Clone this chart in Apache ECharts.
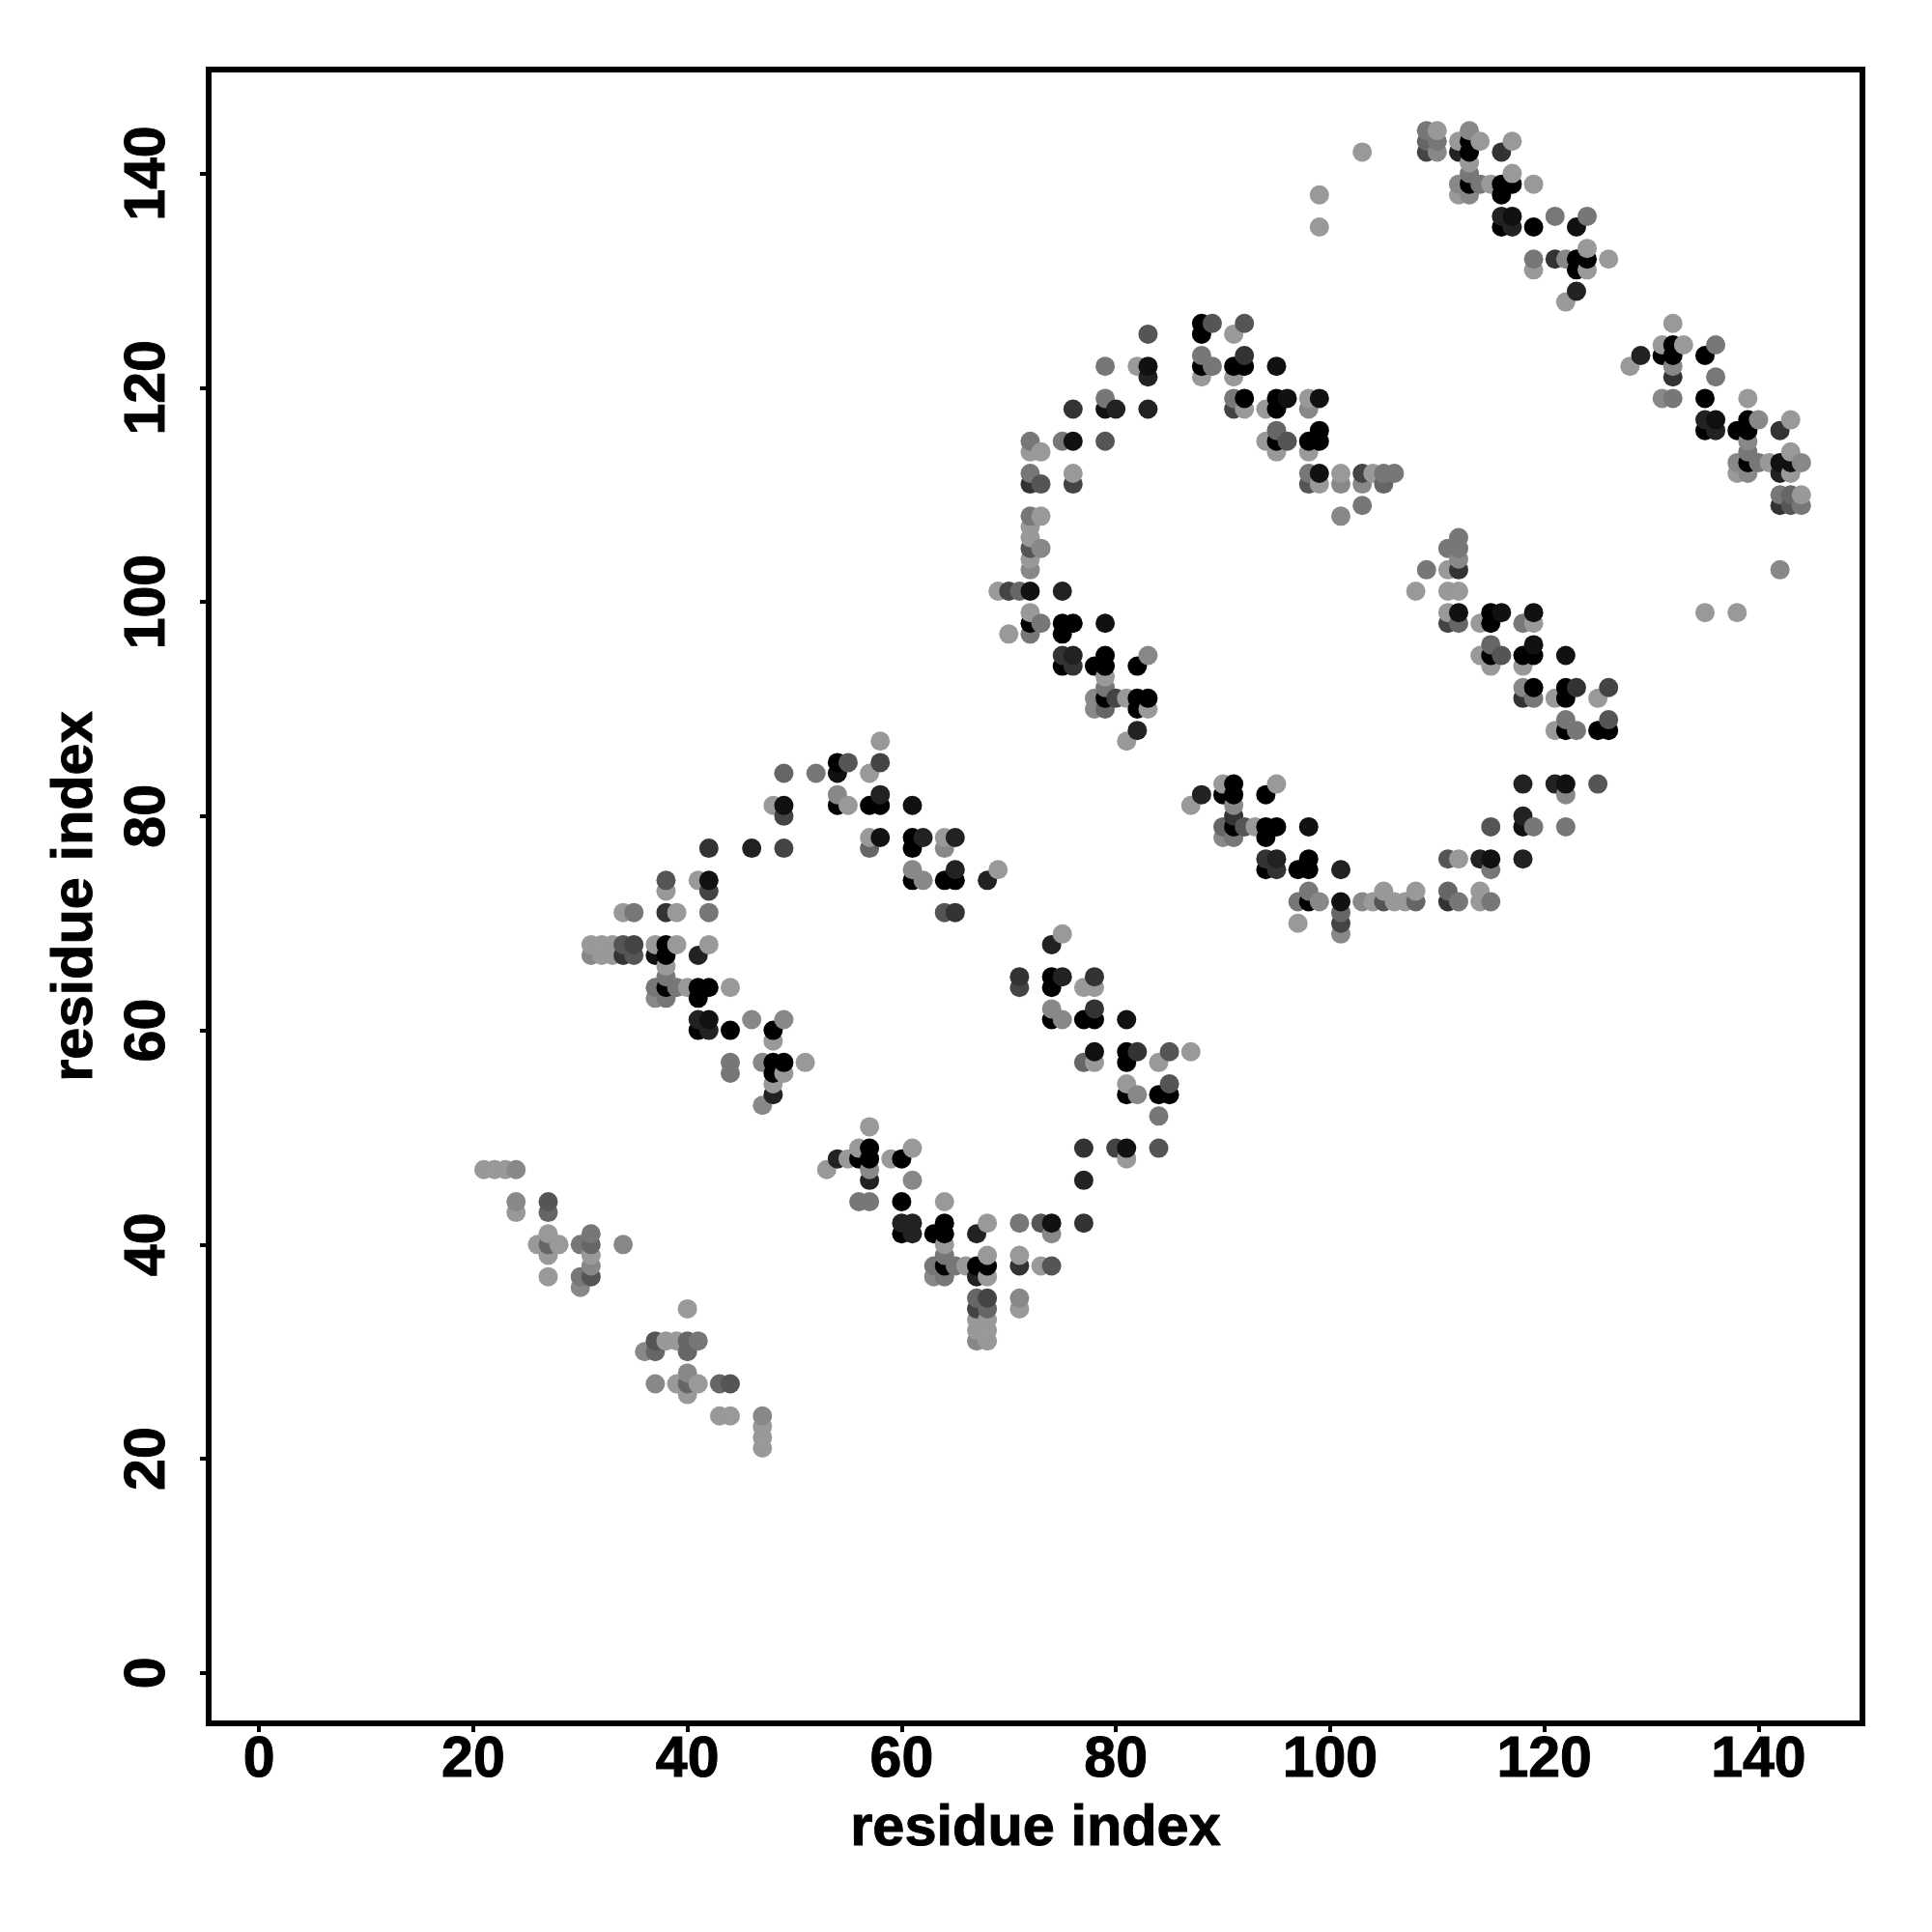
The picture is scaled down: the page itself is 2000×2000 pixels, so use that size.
<!DOCTYPE html>
<html><head><meta charset="utf-8">
<style>html,body{margin:0;padding:0;background:#fff}#c{width:2000px;height:2000px}</style>
<script src="https://cdn.jsdelivr.net/npm/echarts@6/dist/echarts.min.js"></script>
</head><body><div id="c"></div>
<script>
const tickValues = [0,20,40,60,80,100,120,140];
const axisTitle = 'residue index';
const gray99 = [[21,47],[22,47],[23,47],[24,43],[27,41],[26,40],[28,40],[27,39],[31,39],[27,37],[40,34],[38,31],[39,31],[39,27],[41,27],[40,26],[43,24],[44,24],[47,23],[47,22],[47,21],
[75,69],[77,64],[78,64],[87,58],[78,57],[84,57],[81,55],[81,48],[71,39],[73,38],[71,34],[57,51],[56,49],[61,49],[55,48],[59,48],[53,47],[64,44],[68,42],[64,40],[68,39],[66,38],[68,37],[67,33],[68,33],[67,32],[68,32],[68,31],
[58,87],[57,84],[48,81],[55,81],[57,78],[64,78],[69,75],[41,74],[38,73],[34,71],[39,71],[31,68],[32,68],[33,68],[37,68],[39,68],[42,68],[32,67],[33,67],[38,66],[40,64],[44,64],[48,59],[49,56],[51,57],[48,55],
[111,103],[108,101],[111,101],[112,101],[111,99],[114,98],[119,98],[114,95],[115,94],[118,94],[121,91],[125,91],[121,88],[90,83],[95,83],[87,81],[93,79],[112,76],[105,73],[108,73],[114,73],[104,72],[106,72],[107,72],[114,72],[97,70],
[91,125],[82,122],[88,121],[91,121],[98,119],[92,118],[94,118],[73,114],[72,114],[94,115],[95,114],[98,114],[76,112],[101,112],[104,112],[99,111],[73,108],[72,107],[72,106],[72,104],[69,101],[72,99],[70,97],[79,93],[81,91],[83,90],[81,87],
[110,144],[112,143],[114,143],[117,143],[103,142],[113,141],[117,140],[115,139],[119,139],[99,138],[112,138],[99,135],[124,133],[119,131],[124,131],[126,132],[122,128],
[132,126],[131,124],[133,124],[128,122],[139,119],[143,117],[143,114],[141,113],[138,112],[143,112],[144,110],[135,99],[138,99]];
const gray88 = [[24,47],[24,44],[34,40],[31,38],[30,36],[36,30],[40,28],[37,27],[47,24],[57,47],[74,41],[71,35],[63,37],[67,31],[82,54],[74,62],[75,61],[61,46],[54,82],[64,77],[61,75],[62,74],[31,67],[37,63],[46,61],[49,61],[47,57],[47,53],
[112,104],[118,92],[90,78],[91,81],[122,82],[99,72],[103,72],[101,69],[101,108],[98,118],[103,111],[101,111],[73,105],[72,103],[83,95],[78,91],[78,90],[113,144],[112,139],[113,138],[110,142],[122,132],[139,112],[138,113],[144,113],[132,122],[140,117],[139,115],[131,119],[142,103]];
const gray77 = [[31,41],[30,40],[30,37],[41,31],[56,44],[57,44],[64,39],[63,38],[65,38],[64,37],[71,42],[84,52],[52,84],[42,71],[35,71],[38,65],[37,64],[39,64],[38,63],[44,57],[44,56],[112,106],[111,105],[112,105],[109,103],[118,98],[119,91],[122,89],[123,88],[119,79],[122,79],[91,78],[115,75],[98,73],[97,72],[112,72],[115,72],
[79,122],[89,122],[88,123],[79,119],[91,119],[72,115],[75,115],[72,112],[98,112],[105,112],[106,112],[103,109],[72,108],[73,98],[72,97],[79,92],[110,143],[109,144],[113,140],[114,139],[119,132],[121,136],[124,136],[136,124],[136,121],[132,119],[139,114],[140,113],[142,110],[144,109]];
const gray66 = [[27,43],[27,40],[31,40],[40,31],[37,30],[40,30],[40,27],[43,27],[67,35],[68,34],[77,57],[49,84],[57,77],[90,79],[112,98],[115,96],[111,73],[108,72],[101,71],[79,90],[95,116],[105,111],[71,101],[109,143],[143,110]];
const gray55 = [[27,44],[31,37],[37,31],[44,27],[64,71],[85,58],[85,55],[84,49],[73,42],[74,38],[55,85],[38,74],[34,68],[35,67],[92,79],[111,76],[116,95],[126,89],[115,79],[105,72],[125,83],[89,126],[92,126],[83,125],[79,115],[96,115],[73,111],[98,111],[72,105],[143,109]];
const gray44 = [[71,64],[80,49],[68,35],[67,34],[58,85],[49,80],[49,77],[42,73],[35,68],[126,92],[111,98],[101,70],[103,112],[70,101],[80,91],[91,118],[76,111],[109,142]];
const gray33 = [[65,71],[71,65],[71,38],[77,49],[78,65],[78,62],[82,58],[42,77],[38,71],[34,67],[123,92],[118,91],[112,103],[91,80],[94,76],[95,75],[111,72],[76,118],[72,111],[92,123],[75,95],[76,94],[116,142],[121,132],[132,121],[142,116],[142,109],[77,42]];
const gray22 = [[54,48],[57,46],[60,42],[61,42],[61,41],[67,41],[67,37],[74,68],[75,65],[77,46],[58,82],[46,77],[65,78],[65,75],[62,78],[68,74],[41,67],[41,61],[42,60],[48,54],[88,82],[118,83],[121,83],[95,76],[114,76],[118,76],[118,80],[101,75],[80,118],[83,121],[83,118],[75,101],[76,95],[82,88],[112,142],[116,136],[117,135],[123,129],[129,123],[135,117],[136,116],[142,112]];
const gray11 = [[74,42],[81,61],[78,58],[81,49],[54,84],[49,81],[61,81],[58,78],[42,74],[37,67],[42,61],[98,79],[112,99],[116,99],[119,99],[119,96],[122,95],[122,83],[118,79],[115,76],[101,72],[83,122],[95,122],[79,118],[96,119],[99,119],[72,101],[79,98],[76,115],[99,112],[117,136],[123,135],[136,117],[142,113],[143,113]];
const gray00 = [[74,65],[74,64],[74,61],[77,61],[78,61],[81,58],[81,57],[81,54],[84,54],[85,54],[57,49],[56,48],[57,48],[60,48],[60,44],[60,41],[63,41],[64,42],[64,41],[64,38],[67,38],[68,38],[54,85],[54,81],[57,81],[58,81],[61,78],[61,77],[61,74],[64,74],[65,74],[38,68],[38,67],[38,64],[41,64],[42,64],[41,63],[41,60],[44,60],[48,60],[48,57],[49,57],[48,56],
[115,99],[115,98],[115,95],[118,95],[119,95],[119,92],[122,92],[122,91],[122,88],[125,88],[126,88],[91,83],[90,82],[91,82],[94,82],[91,79],[94,79],[95,79],[94,78],[98,76],[94,75],[97,75],[98,75],[98,72],
[88,126],[88,125],[88,122],[91,122],[92,122],[92,119],[95,119],[95,118],[99,116],[95,115],[98,115],[99,115],[72,98],[75,98],[76,98],[75,97],[79,95],[75,94],[78,94],[79,94],[82,94],[79,91],[82,91],[83,91],[82,90],
[113,143],[113,142],[113,139],[116,139],[117,139],[116,138],[116,135],[119,135],[123,132],[124,132],[123,131],
[132,124],[131,123],[132,123],[135,123],[135,119],[139,117],[135,116],[138,116],[139,116],[139,113]];
const shadeGroups = [['#999999',gray99],['#888888',gray88],['#777777',gray77],['#666666',gray66],['#555555',gray55],['#444444',gray44],['#333333',gray33],['#222222',gray22],['#111111',gray11],['#000000',gray00]];

const points = [];
shadeGroups.forEach(([color, pts]) => pts.forEach(p => points.push({value:p, itemStyle:{color}})));
points.sort((a,b) => a.value[0]-b.value[0] || a.value[1]-b.value[1]);

const font = 'Liberation Sans';
function axis(isY){
  return {
    type:'value', min:-4.7, max:149.7, splitLine:{show:false},
    axisLine:{show:false, onZero:false},
    axisTick:{show:true, customValues:tickValues, inside:false, length:9, lineStyle:{color:'#000',width:4}},
    axisLabel:{show:true, customValues:tickValues, color:'#000', fontFamily:font, fontWeight:'bold', fontSize:59,
      textBorderColor:'#000', textBorderWidth:1,
      rotate:isY?90:0, margin:isY?33:9},
    name:axisTitle, nameLocation:'middle', nameGap:isY?107:80,
    nameRotate:isY?90:0,
    nameTextStyle:{color:'#000', fontFamily:font, fontWeight:'bold', fontSize:59.5, textBorderColor:'#000', textBorderWidth:1}
  };
}
const chart = echarts.init(document.getElementById('c'), null, {renderer:'canvas'});
chart.setOption({
  animation:false, backgroundColor:'#fff',
  grid:{show:true, left:216, right:72, top:72, bottom:216, borderColor:'#000', borderWidth:6, backgroundColor:'#fff', containLabel:false},
  xAxis:axis(false), yAxis:axis(true),
  series:[{type:'scatter', symbol:'circle', symbolSize:20, data:points, clip:false, itemStyle:{opacity:1}, emphasis:{disabled:true}}]
});
</script></body></html>
